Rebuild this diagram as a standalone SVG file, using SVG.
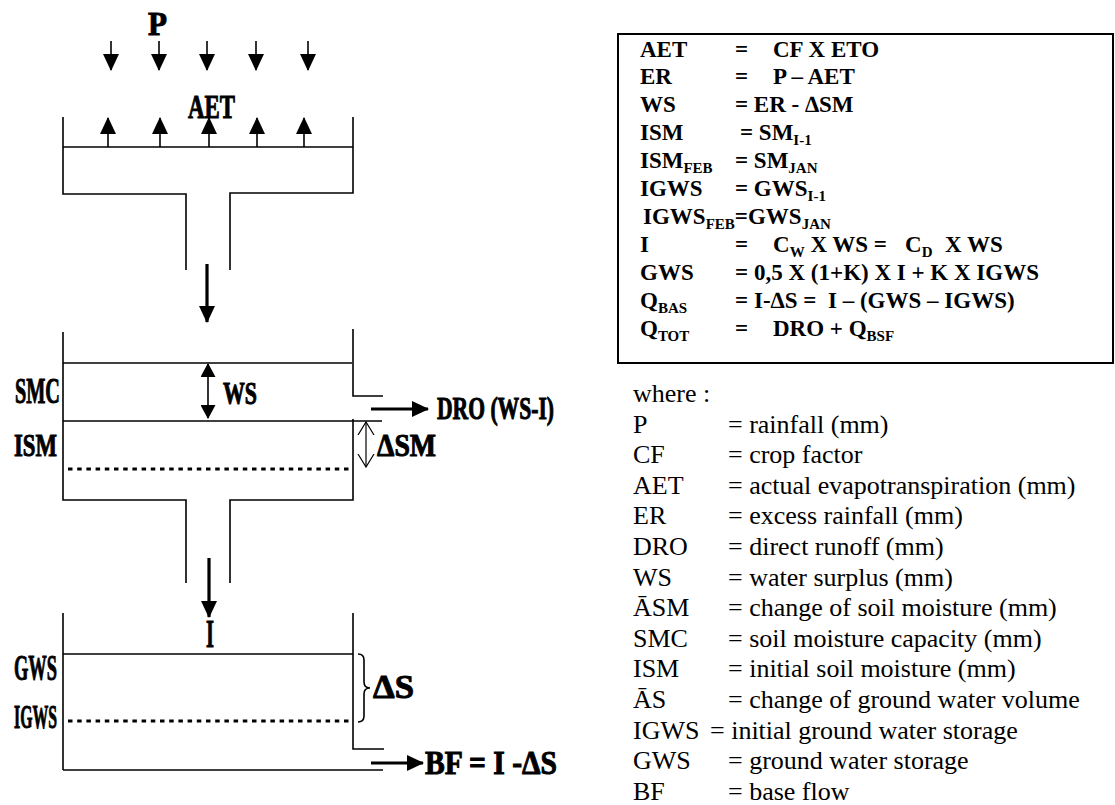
<svg xmlns="http://www.w3.org/2000/svg" width="1115" height="805" viewBox="0 0 1115 805">
<style>
.w{stroke:#000;fill:none;stroke-width:1.6}
.dot{stroke:#000;fill:none;stroke-width:3;stroke-dasharray:4.5 4.7}
.thin{stroke:#000;fill:none;stroke-width:1.6}
.thick{stroke:#000;fill:none;stroke-width:3.2}
.lab{font-family:"Liberation Serif","Times New Roman",serif;font-weight:bold;fill:#000;stroke:#000;stroke-width:1}
.eq{font-family:"Liberation Serif","Times New Roman",serif;font-weight:bold;font-size:23px;fill:#000}
.leg{font-family:"Liberation Serif","Times New Roman",serif;font-size:26px;fill:#000}
.sub{font-size:15px}
</style>
<defs>
<marker id="ah" markerUnits="userSpaceOnUse" markerWidth="17" markerHeight="16" viewBox="0 0 17 16" refX="16" refY="8" orient="auto"><path d="M0,0 L17,8 L0,16 z" fill="#000"/></marker>
<marker id="ahs" markerUnits="userSpaceOnUse" markerWidth="14" markerHeight="15" viewBox="0 0 14 15" refX="13" refY="7.5" orient="auto-start-reverse"><path d="M0,0 L14,7.5 L0,15 z" fill="#000"/></marker>
<marker id="aho" markerUnits="userSpaceOnUse" markerWidth="14" markerHeight="18" viewBox="0 0 14 18" refX="13" refY="9" orient="auto-start-reverse"><path d="M0,1 L13,9 L0,17" fill="none" stroke="#000" stroke-width="1.2"/></marker>
</defs>

<g id="tank-top">
<path class="w" d="M63,117 V194 H186 V270"/>
<path class="w" d="M353,117 V193 H230 V270"/>
<line class="w" x1="63" y1="147" x2="353" y2="147"/>
</g>

<g id="tank-soil">
<path class="w" d="M63,332 V500 H186 V583"/>
<path class="w" d="M353,329 V396 H383"/>
<line class="w" x1="63" y1="363" x2="352" y2="363"/>
<line class="w" x1="63" y1="421" x2="382" y2="421"/>
<path class="w" d="M353,419 V500 H230 V583"/>
<line class="dot" x1="68" y1="469" x2="353" y2="469"/>
</g>

<g id="tank-ground">
<path class="w" d="M63,613 V770"/>
<path class="w" d="M353,613 V749 H384"/>
<line class="w" x1="63" y1="654" x2="353" y2="654"/>
<line class="dot" x1="68" y1="721" x2="353" y2="721"/>
<line class="w" x1="63" y1="770" x2="383" y2="770"/>
<path class="thin" d="M358,654 Q364,654 364,660 L364,682 Q364,688 370,688 Q364,688 364,694 L364,716 Q364,722 358,722"/>
</g>

<g id="labels">
<text class="lab" x="148" y="35" font-size="34" textLength="19" lengthAdjust="spacingAndGlyphs">P</text>
<text class="lab" x="188" y="118" font-size="34" textLength="47" lengthAdjust="spacingAndGlyphs">AET</text>
<text class="lab" x="15" y="403" font-size="35" textLength="45" lengthAdjust="spacingAndGlyphs">SMC</text>
<text class="lab" x="223" y="404" font-size="32" textLength="34" lengthAdjust="spacingAndGlyphs">WS</text>
<text class="lab" x="14" y="456" font-size="32" textLength="43" lengthAdjust="spacingAndGlyphs">ISM</text>
<text class="lab" x="377" y="456" font-size="32" textLength="59" lengthAdjust="spacingAndGlyphs">ΔSM</text>
<text class="lab" x="437" y="419" font-size="31" textLength="117" lengthAdjust="spacingAndGlyphs">DRO (WS-I)</text>
<text class="lab" x="206" y="647" font-size="40" textLength="8" lengthAdjust="spacingAndGlyphs">I</text>
<text class="lab" x="14" y="680" font-size="36" textLength="43" lengthAdjust="spacingAndGlyphs">GWS</text>
<text class="lab" x="14" y="728" font-size="34" textLength="43" lengthAdjust="spacingAndGlyphs">IGWS</text>
<text class="lab" x="373" y="698" font-size="34" textLength="41" lengthAdjust="spacingAndGlyphs">ΔS</text>
<text class="lab" x="425" y="774" font-size="33" textLength="132" lengthAdjust="spacingAndGlyphs">BF = I -ΔS</text>
</g>

<g id="connectors">
<line class="thin" x1="111" y1="41" x2="111" y2="70" marker-end="url(#ah)"/>
<line class="thin" x1="159" y1="41" x2="159" y2="70" marker-end="url(#ah)"/>
<line class="thin" x1="207" y1="41" x2="207" y2="70" marker-end="url(#ah)"/>
<line class="thin" x1="256" y1="41" x2="256" y2="70" marker-end="url(#ah)"/>
<line class="thin" x1="308" y1="41" x2="308" y2="70" marker-end="url(#ah)"/>
<line class="thin" x1="108" y1="147" x2="108" y2="118" marker-end="url(#ah)"/>
<line class="thin" x1="160" y1="147" x2="160" y2="118" marker-end="url(#ah)"/>
<line class="thin" x1="209" y1="147" x2="209" y2="118" marker-end="url(#ah)"/>
<line class="thin" x1="257" y1="147" x2="257" y2="118" marker-end="url(#ah)"/>
<line class="thin" x1="304" y1="147" x2="304" y2="118" marker-end="url(#ah)"/>
<line class="thick" x1="207" y1="264" x2="207" y2="322" marker-end="url(#ah)"/>
<line class="thick" x1="209" y1="558" x2="209" y2="617" marker-end="url(#ah)"/>
<line class="thin" x1="208" y1="364" x2="208" y2="418" marker-start="url(#ahs)" marker-end="url(#ahs)"/>
<line stroke="#000" stroke-width="1.2" x1="366" y1="422" x2="366" y2="467" marker-start="url(#aho)" marker-end="url(#aho)"/>
<line class="thick" x1="371" y1="409" x2="428" y2="409" marker-end="url(#ah)"/>
<line class="thick" x1="371" y1="763" x2="423" y2="763" marker-end="url(#ah)"/>
</g>

<g id="equations">
<rect x="618" y="34" width="495" height="329" fill="none" stroke="#000" stroke-width="2"/>
<text class="eq" x="640" y="56.5">AET</text><text class="eq" x="735" y="56.5">=</text><text class="eq" x="773" y="56.5">CF X ETO</text>
<text class="eq" x="640" y="84.4">ER</text><text class="eq" x="735" y="84.4">=</text><text class="eq" x="773" y="84.4">P – AET</text>
<text class="eq" x="640" y="112.3">WS</text><text class="eq" x="735" y="112.3">= ER - ∆SM</text>
<text class="eq" x="640" y="140.2">ISM</text><text class="eq" x="740" y="140.2">= SM<tspan class="sub" dy="5">I-1</tspan></text>
<text class="eq" x="640" y="168.1">ISM<tspan class="sub" dy="5">FEB</tspan></text><text class="eq" x="735" y="168.1">= SM<tspan class="sub" dy="5">JAN</tspan></text>
<text class="eq" x="640" y="196">IGWS</text><text class="eq" x="735" y="196">= GWS<tspan class="sub" dy="5">I-1</tspan></text>
<text class="eq" x="643" y="223.9">IGWS<tspan class="sub" dy="5">FEB</tspan><tspan dy="-5">=GWS</tspan><tspan class="sub" dy="5">JAN</tspan></text>
<text class="eq" x="640" y="251.8">I</text><text class="eq" x="735" y="251.8">=</text><text class="eq" x="773" y="251.8">C<tspan class="sub" dy="5">W</tspan><tspan dy="-5"> X WS =</tspan><tspan x="905">C</tspan><tspan class="sub" dy="5">D</tspan><tspan x="945" dy="-5">X WS</tspan></text>
<text class="eq" x="640" y="279.7">GWS</text><text class="eq" x="735" y="279.7">=</text><text class="eq" x="754" y="279.7">0,5 X (1+K) X I + K X IGWS</text>
<text class="eq" x="640" y="307.6">Q<tspan class="sub" dy="5">BAS</tspan></text><text class="eq" x="735" y="307.6">=</text><text class="eq" x="754" y="307.6">I-∆S =</text><text class="eq" x="828" y="307.6">I – (GWS – IGWS)</text>
<text class="eq" x="640" y="335.5">Q<tspan class="sub" dy="5">TOT</tspan></text><text class="eq" x="735" y="335.5">=</text><text class="eq" x="773" y="335.5">DRO + Q<tspan class="sub" dy="5">BSF</tspan></text>
</g>

<g id="legend">
<text class="leg" x="633" y="402">where :</text>
<text class="leg" x="633" y="432.6">P</text><text class="leg" x="728" y="432.6">= rainfall (mm)</text>
<text class="leg" x="633" y="463.2">CF</text><text class="leg" x="728" y="463.2">= crop factor</text>
<text class="leg" x="633" y="493.8">AET</text><text class="leg" x="728" y="493.8">= actual evapotranspiration (mm)</text>
<text class="leg" x="633" y="524.4">ER</text><text class="leg" x="728" y="524.4">= excess rainfall (mm)</text>
<text class="leg" x="633" y="555">DRO</text><text class="leg" x="728" y="555">= direct runoff (mm)</text>
<text class="leg" x="633" y="585.6">WS</text><text class="leg" x="728" y="585.6">= water surplus (mm)</text>
<text class="leg" x="633" y="616.2">ĀSM</text><text class="leg" x="728" y="616.2">= change of soil moisture (mm)</text>
<text class="leg" x="633" y="646.8">SMC</text><text class="leg" x="728" y="646.8">= soil moisture capacity (mm)</text>
<text class="leg" x="633" y="677.4">ISM</text><text class="leg" x="728" y="677.4">= initial soil moisture (mm)</text>
<text class="leg" x="633" y="708">ĀS</text><text class="leg" x="728" y="708">= change of ground water volume</text>
<text class="leg" x="633" y="738.6">IGWS</text><text class="leg" x="710" y="738.6">= initial ground water storage</text>
<text class="leg" x="633" y="769.2">GWS</text><text class="leg" x="728" y="769.2">= ground water storage</text>
<text class="leg" x="633" y="799.8">BF</text><text class="leg" x="728" y="799.8">= base flow</text>
</g>
</svg>
